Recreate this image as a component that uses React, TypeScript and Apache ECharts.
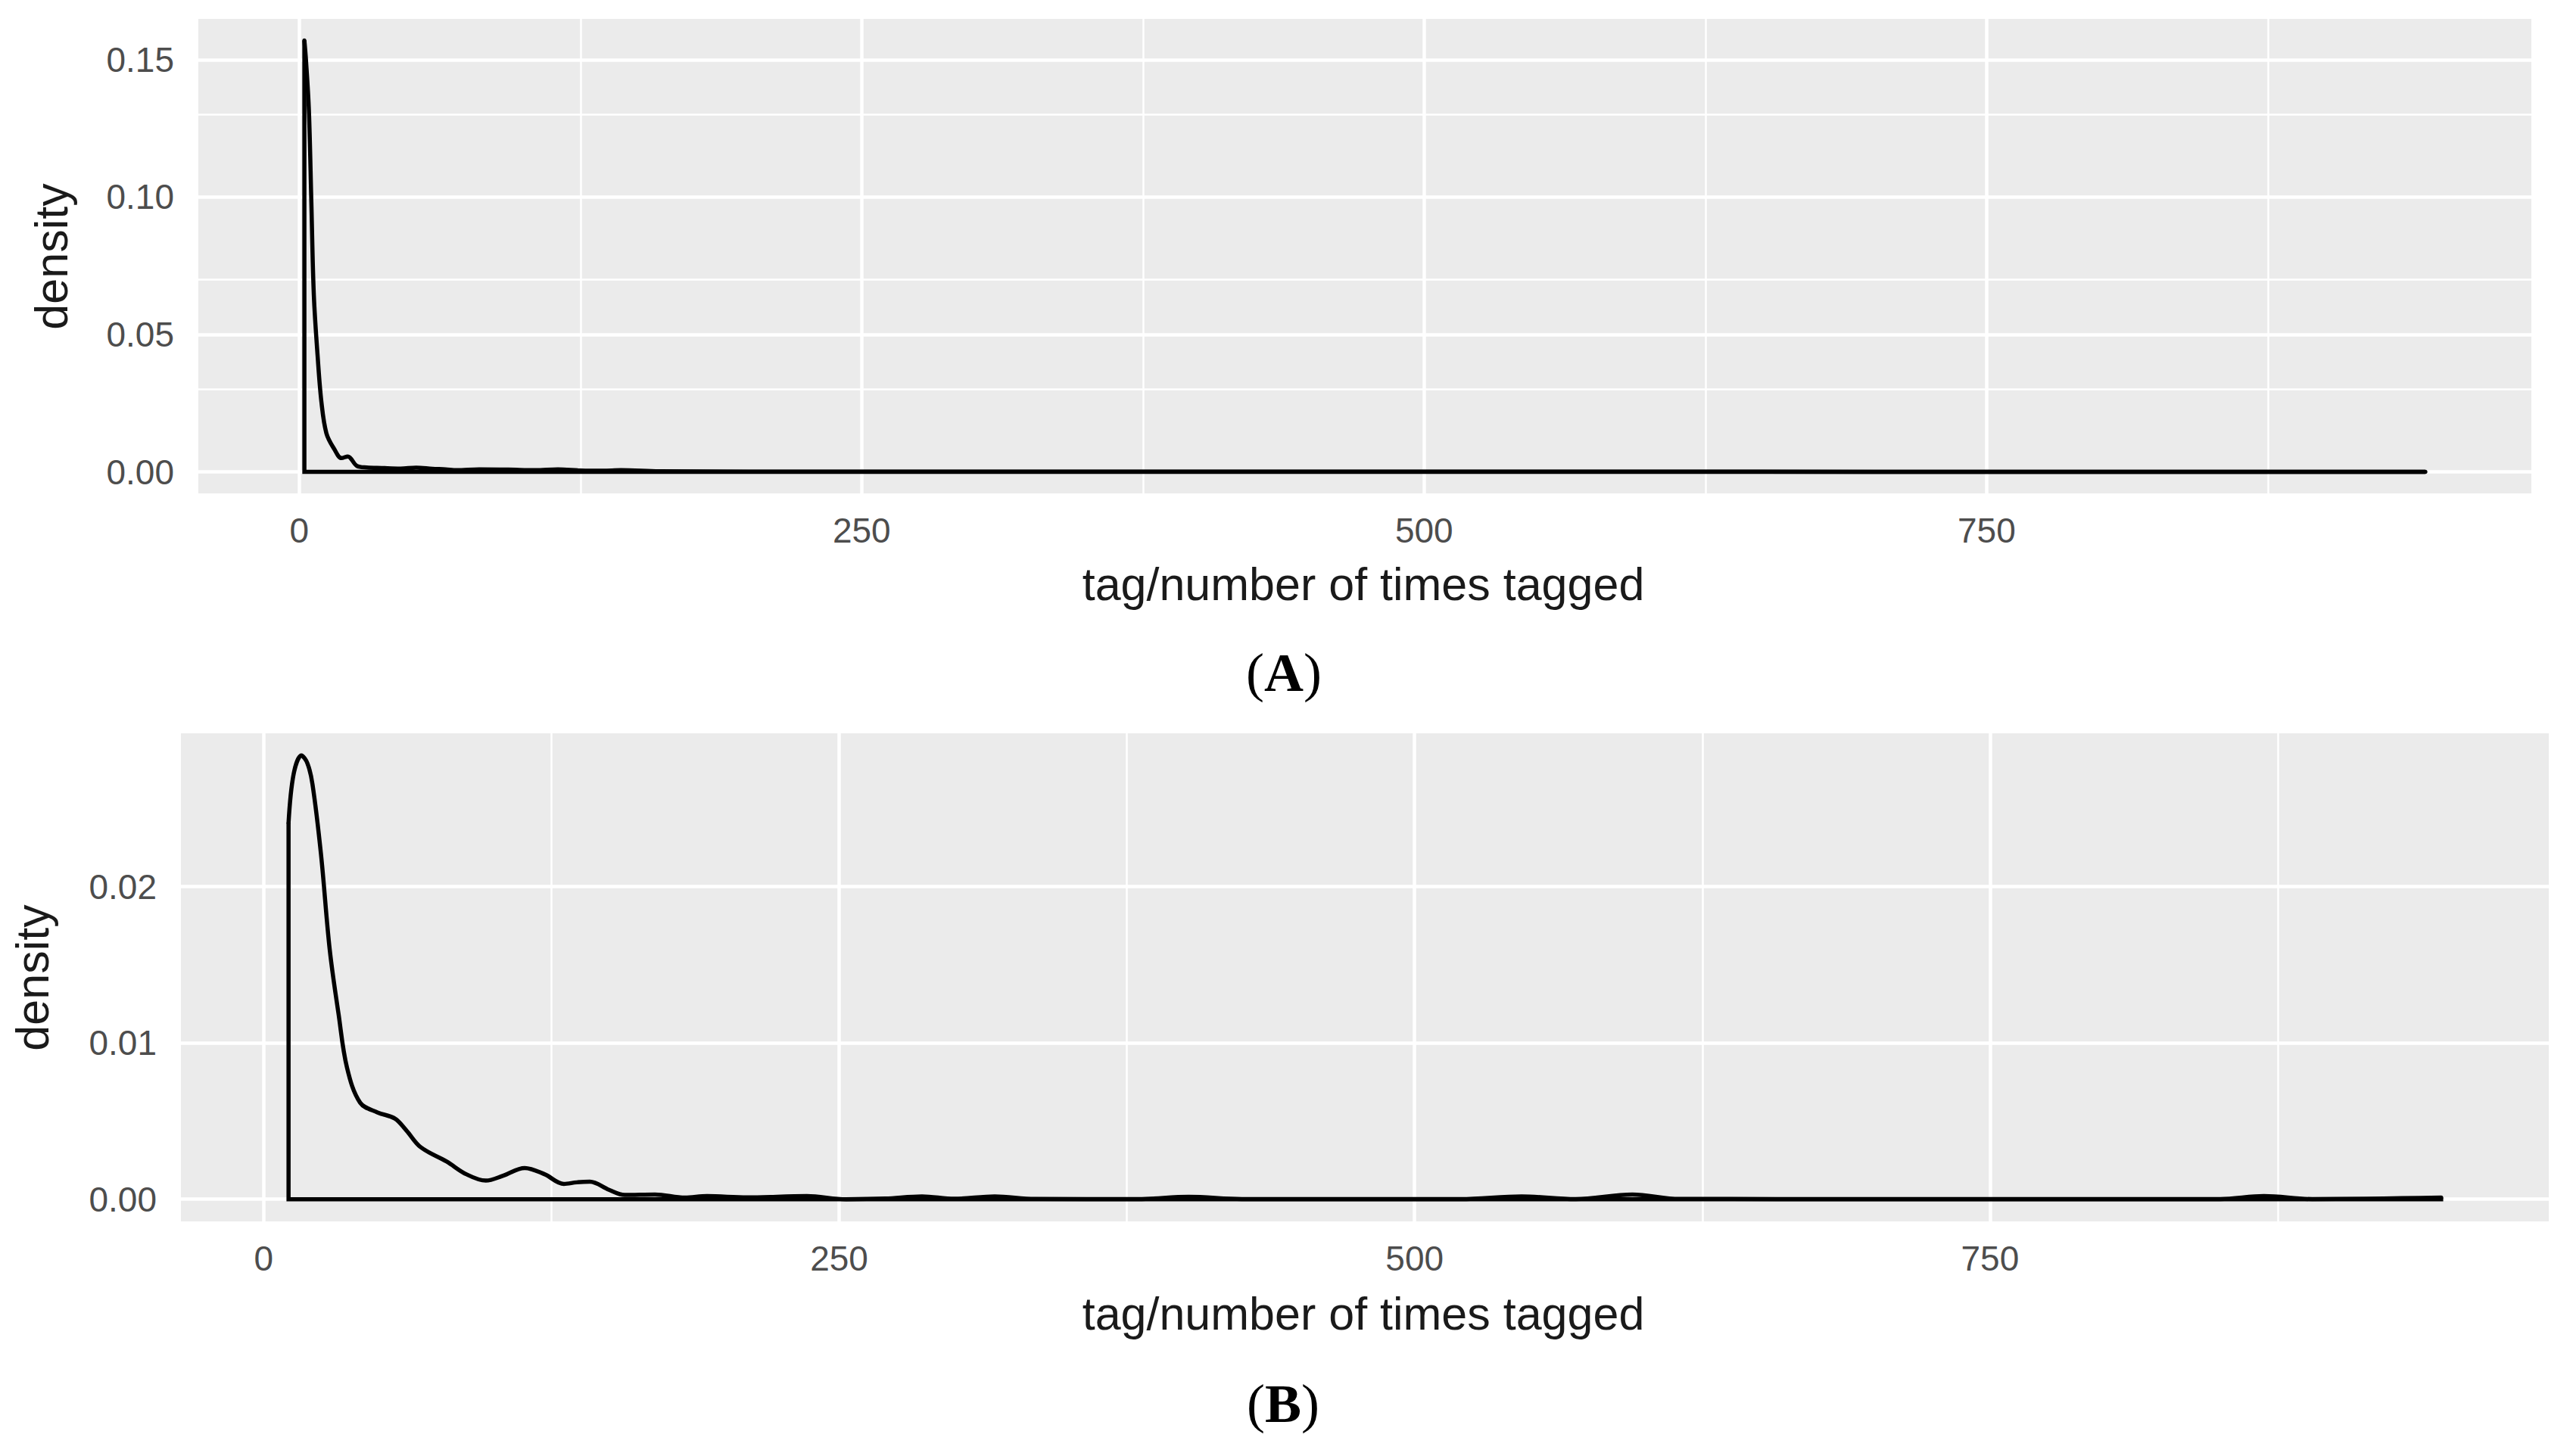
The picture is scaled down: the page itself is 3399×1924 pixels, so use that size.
import React, { useEffect, useRef } from "react";
import * as echarts from "echarts";

// ---------- Data ----------
// Panel A: density of tag / number of times tagged
const densityAx = [2.3, 3, 4.3, 5.4, 6.5, 8.2, 9.9, 12.1, 15.5, 18.8, 21.6, 25.6, 30, 36.7, 45, 52, 59.2, 65, 70, 80, 92.9, 105, 115, 125, 135, 143, 160, 200, 300, 400, 500, 600, 700, 800, 900, 945];
const densityAy = [0.157, 0.15, 0.1317, 0.0981, 0.0644, 0.042, 0.0252, 0.014, 0.0084, 0.005, 0.0056, 0.0022, 0.0016, 0.0014, 0.0012, 0.0015, 0.0011, 0.0009, 0.0006, 0.0009, 0.0008, 0.0006, 0.0009, 0.0005, 0.0004, 0.0006, 0.0002, 0.0001, 0.0001, 0.00005, 0.00005, 0.00005, 0.00003, 0.00003, 0.00002, 0.00002];

// Panel B
const densityBx = [10.8, 13, 16.4, 19, 21.2, 24.9, 28.7, 32.5, 36.2, 41.9, 49.4, 57, 62, 68.2, 79.5, 88, 96.5, 104, 113.4, 122, 130.4, 136, 141.7, 150, 156.8, 170, 183, 192.6, 210, 236, 253, 270, 286, 300, 317.6, 335, 380, 401.9, 425, 520, 546.5, 570, 594.6, 615, 700, 850, 869, 890, 946];
const densityBy = [0.0241, 0.0272, 0.0284, 0.0279, 0.02656, 0.02207, 0.01596, 0.01188, 0.00842, 0.00618, 0.00556, 0.00516, 0.0044, 0.00333, 0.00241, 0.0016, 0.00119, 0.0015, 0.002, 0.0016, 0.00098, 0.00108, 0.00112, 0.0006, 0.00027, 0.0003, 0.0001, 0.0002, 0.00012, 0.0002, 0.0, 0.00004, 0.00018, 0.00003, 0.00018, 0.00002, 0.00001, 0.00015, 0.00001, 0.00001, 0.00018, 0.00001, 0.0003, 0.00002, 0.00001, 0.00001, 0.0002, 0.00001, 0.0001];

// Tick values
const xMajorTicks = [0, 250, 500, 750];
const xMinorTicks = [125, 375, 625, 875];
const yMajorTicksA = [0, 0.05, 0.1, 0.15];
const yMinorTicksA = [0.025, 0.075, 0.125];
const yMajorTicksB = [0, 0.01, 0.02];
const yMinorTicksB = [0.005, 0.015, 0.025];

const xTitle = "tag/number of times tagged";
const yTitle = "density";
const captions = ["A", "B"];

// ---------- Helpers ----------
const SANS = "'Liberation Sans', Arial, sans-serif";
const SERIF = "'Liberation Serif', 'Times New Roman', serif";
const BG = "#EBEBEB";
const LINE_W = 5.5;

function expand(vals: number[], includeZero: boolean) {
  const lo = includeZero ? Math.min(0, ...vals) : Math.min(...vals);
  const hi = Math.max(...vals);
  const pad = (hi - lo) * 0.05;
  return [lo - pad, hi + pad];
}

function gridLines(xMaj: number[], xMin: number[], yMaj: number[], yMin: number[]) {
  const maj = { color: "#FFFFFF", width: 4.5, type: "solid" as const };
  const min = { color: "#FFFFFF", width: 2.5, type: "solid" as const };
  return [
    ...xMin.map((v) => ({ xAxis: v, lineStyle: min })),
    ...yMin.map((v) => ({ yAxis: v, lineStyle: min })),
    ...xMaj.map((v) => ({ xAxis: v, lineStyle: maj })),
    ...yMaj.map((v) => ({ yAxis: v, lineStyle: maj })),
  ];
}

function makeAxes(idx: number, xs: number[], ys: number[], yMaj: number[]) {
  const [xmin, xmax] = expand(xs, false);
  const [ymin, ymax] = expand(ys, true);
  const xAxis = {
    type: "value",
    gridIndex: idx,
    min: xmin,
    max: xmax,
    axisLine: { show: false },
    splitLine: { show: false },
    axisTick: {
      show: true,
      customValues: xMajorTicks,
      length: 13,
      lineStyle: { color: "#333333", width: 3 },
    },
    axisLabel: {
      show: true,
      customValues: xMajorTicks,
      margin: 26,
      color: "#4D4D4D",
      fontSize: 46,
      fontFamily: SANS,
      formatter: (v: number) => String(Math.round(v)),
    },
  };
  const yAxis = {
    type: "value",
    gridIndex: idx,
    min: ymin,
    max: ymax,
    axisLine: { show: false },
    splitLine: { show: false },
    axisTick: {
      show: true,
      customValues: yMaj,
      length: 14,
      lineStyle: { color: "#333333", width: 3 },
    },
    axisLabel: {
      show: true,
      customValues: yMaj,
      margin: 32,
      color: "#4D4D4D",
      fontSize: 46,
      fontFamily: SANS,
      formatter: (v: number) => v.toFixed(2),
    },
  };
  return { xAxis, yAxis };
}

function makeSeries(idx: number, xs: number[], ys: number[], yMaj: number[], yMin: number[]) {
  const curve = xs.map((x, i) => [x, ys[i]]);
  const n = xs.length - 1;
  const outline = [
    [xs[n], ys[n]],
    [xs[n], 0],
    [xs[0], 0],
    [xs[0], ys[0]],
  ];
  return [
    {
      type: "line",
      xAxisIndex: idx,
      yAxisIndex: idx,
      data: [[xs[0], 0]],
      symbol: "none",
      lineStyle: { width: 0, opacity: 0 },
      silent: true,
      z: 1,
      markLine: {
        silent: true,
        symbol: ["none", "none"],
        label: { show: false },
        emphasis: { disabled: true },
        data: gridLines(xMajorTicks, xMinorTicks, yMaj, yMin),
      },
    },
    {
      type: "line",
      xAxisIndex: idx,
      yAxisIndex: idx,
      data: curve,
      symbol: "none",
      smooth: 0.35,
      lineStyle: { color: "#000000", width: LINE_W, join: "round", cap: "round" },
      silent: true,
      z: 10,
    },
    {
      type: "line",
      xAxisIndex: idx,
      yAxisIndex: idx,
      data: outline,
      symbol: "none",
      smooth: false,
      lineStyle: { color: "#000000", width: LINE_W, join: "miter" },
      silent: true,
      z: 10,
    },
  ];
}

function titleText(x: number, y: number, text: string, rotate: boolean) {
  return {
    type: "text",
    x,
    y,
    rotation: rotate ? Math.PI / 2 : 0,
    silent: true,
    style: {
      text,
      fill: "#1A1A1A",
      fontSize: 61,
      fontFamily: SANS,
      align: "center",
      verticalAlign: "middle",
      textAlign: "center",
      textVerticalAlign: "middle",
    },
  };
}

function captionText(x: number, y: number, letter: string) {
  return {
    type: "text",
    x,
    y,
    silent: true,
    style: {
      text: `{p|(}{b|${letter}}{p|)}`,
      align: "center",
      verticalAlign: "middle",
      textAlign: "center",
      textVerticalAlign: "middle",
      rich: {
        p: { fontFamily: SERIF, fontSize: 72, fontWeight: "normal", fill: "#000000", color: "#000000" },
        b: { fontFamily: SERIF, fontSize: 72, fontWeight: "bold", fill: "#000000", color: "#000000" },
      },
    },
  };
}

export default function App() {
  const ref = useRef<HTMLDivElement>(null);

  useEffect(() => {
    document.body.style.margin = "0";
    if (!ref.current) return;
    const chart = echarts.init(ref.current, undefined, { renderer: "svg" });

    const a = makeAxes(0, densityAx, densityAy, yMajorTicksA);
    const b = makeAxes(1, densityBx, densityBy, yMajorTicksB);

    const option = {
      animation: false,
      backgroundColor: "#FFFFFF",
      grid: [
        { left: 262, top: 25, width: 3082, height: 627, show: true, backgroundColor: BG, borderWidth: 0, containLabel: false },
        { left: 239, top: 969, width: 3128, height: 645, show: true, backgroundColor: BG, borderWidth: 0, containLabel: false },
      ],
      xAxis: [a.xAxis, b.xAxis],
      yAxis: [a.yAxis, b.yAxis],
      series: [
        ...makeSeries(0, densityAx, densityAy, yMajorTicksA, yMinorTicksA),
        ...makeSeries(1, densityBx, densityBy, yMajorTicksB, yMinorTicksB),
      ],
      graphic: [
        titleText(1801, 772, xTitle, false),
        titleText(68, 339, yTitle, true),
        captionText(1696, 889, captions[0]),
        titleText(1801, 1736, xTitle, false),
        titleText(43, 1292, yTitle, true),
        captionText(1695, 1855, captions[1]),
      ],
    };
    chart.setOption(option as any);
    return () => chart.dispose();
  }, []);

  return <div ref={ref} style={{ width: 3399, height: 1924 }} />;
}
